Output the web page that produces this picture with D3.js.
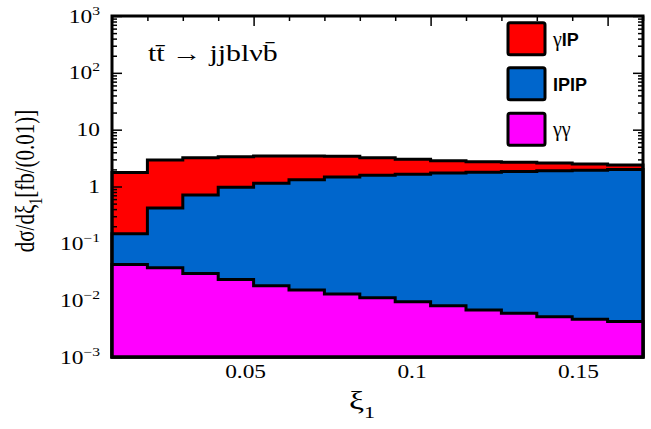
<!DOCTYPE html>
<html>
<head>
<meta charset="utf-8">
<script src="https://cdn.jsdelivr.net/npm/d3@7"></script>
<style>
  body { margin: 0; background: #fff; }
  svg { display: block; }
</style>
</head>
<body>
<div id="chart"></div>
<script>
// bin edges of xi_1 (15 bins of 0.01)
const binEdges = [0.01, 0.02, 0.03, 0.04, 0.05, 0.06, 0.07, 0.08, 0.09, 0.10, 0.11, 0.12, 0.13, 0.14, 0.15, 0.16];

// d sigma / d xi_1 [fb/(0.01)], one value per bin
const gammaIP    = [1.76, 2.93, 3.21, 3.35, 3.44, 3.44, 3.40, 3.22, 3.01, 2.84, 2.73, 2.67, 2.59, 2.49, 2.39];
const ipip       = [0.148, 0.42, 0.71, 0.97, 1.14, 1.32, 1.47, 1.58, 1.65, 1.72, 1.78, 1.84, 1.89, 1.94, 2.0];
const gammaGamma = [0.0424, 0.0372, 0.0295, 0.0232, 0.018, 0.0151, 0.0128, 0.011, 0.0094, 0.008, 0.0067, 0.0059, 0.0051, 0.0046, 0.0042];

const seriesNames  = ["γIP", "IPIP", "γγ"];
const seriesColors = ["#ff0000", "#0066cc", "#ff00ff"];

const yTickValues = [1e-3, 1e-2, 1e-1, 1, 10, 1e2, 1e3];
const yTickLabels = [["10", "−3"], ["10", "−2"], ["10", "−1"], ["1", ""], ["10", ""], ["10", "2"], ["10", "3"]];
const xTickValues = [0.05, 0.1, 0.15];
const xTickLabels = ["0.05", "0.1", "0.15"];

const W = 651, H = 429;
const box = {left: 112, right: 643, top: 16, bottom: 357};
const serif = "Liberation Serif, Times New Roman, serif";
const sans = "Liberation Sans, Arial, sans-serif";
const stretch = 1.3;   // the original picture is widened horizontally

const svg = d3.select("#chart").append("svg")
    .attr("width", W)
    .attr("height", H);

// scales
const x = d3.scaleLinear().domain([0.01, 0.16]).range([box.left, box.right]);
const xLab = d3.scaleLinear().domain([0.01, 0.16]).range([box.left, box.left + 0.94 * (box.right - box.left)]);
const y = d3.scaleLog().domain([1e-3, 1e3]).range([box.bottom, box.top]);

const minorY = [];
[1e-3, 1e-2, 1e-1, 1, 10, 100].forEach(dec => {
    for (let k = 2; k <= 9; k++) minorY.push(dec * k);
});
const minorX = binEdges.filter(v => !xTickValues.some(t => Math.abs(t - v) < 1e-9));

// step outline of one histogram, filled down to the axis floor
function stepPath(vals){
    const p = d3.path();
    p.moveTo(x(binEdges[0]), y(1e-3));
    vals.forEach((v, i) => {
        p.lineTo(x(binEdges[i]), y(v));
        p.lineTo(x(binEdges[i + 1]), y(v));
    });
    p.lineTo(x(binEdges[binEdges.length - 1]), y(1e-3));
    p.closePath();
    return p.toString();
}

function drawHist(vals, color){
    svg.append("path")
        .attr("d", stepPath(vals))
        .attr("fill", color)
        .attr("stroke", "#000")
        .attr("stroke-width", 3)
        .attr("stroke-linejoin", "miter");
}

// red first, then the ticks (they show on top of it), then blue and magenta
drawHist(gammaIP, seriesColors[0]);

function tickAxis(axis, transform){
    const g = svg.append("g").attr("transform", transform).call(axis);
    g.select(".domain").remove();
    g.selectAll("text").remove();
    g.selectAll("line").attr("stroke", "#000").attr("stroke-width", 1.5);
    return g;
}
// left & right
tickAxis(d3.axisRight(y).tickValues(yTickValues).tickSize(10), `translate(${box.left},0)`);
tickAxis(d3.axisRight(y).tickValues(minorY).tickSize(5), `translate(${box.left},0)`);
tickAxis(d3.axisLeft(y).tickValues(yTickValues).tickSize(10), `translate(${box.right},0)`);
tickAxis(d3.axisLeft(y).tickValues(minorY).tickSize(5), `translate(${box.right},0)`);
// top & bottom
tickAxis(d3.axisBottom(x).tickValues(xTickValues).tickSize(10), `translate(0,${box.top})`);
tickAxis(d3.axisBottom(x).tickValues(minorX).tickSize(5), `translate(0,${box.top})`);
tickAxis(d3.axisTop(x).tickValues(xTickValues).tickSize(10), `translate(0,${box.bottom})`);
tickAxis(d3.axisTop(x).tickValues(minorX).tickSize(5), `translate(0,${box.bottom})`);

drawHist(ipip, seriesColors[1]);
drawHist(gammaGamma, seriesColors[2]);

// frame
svg.append("rect")
    .attr("x", box.left).attr("y", box.top)
    .attr("width", box.right - box.left).attr("height", box.bottom - box.top)
    .attr("fill", "none").attr("stroke", "#000").attr("stroke-width", 3);

// y tick labels
const yLab = svg.append("g")
    .attr("transform", `translate(${box.left - 12},0)`)
    .call(d3.axisLeft(y).tickValues(yTickValues).tickSize(0).tickPadding(0).tickFormat(""));
yLab.select(".domain").remove();
yLab.selectAll(".tick text")
    .attr("x", 0).attr("dy", 0).attr("y", 6)
    .attr("text-anchor", "end")
    .attr("transform", `scale(${stretch},1)`)
    .attr("font-family", serif).attr("font-size", 18).attr("fill", "#000")
    .each(function(d){
        const lab = yTickLabels[yTickValues.indexOf(d)];
        const t = d3.select(this);
        t.append("tspan").text(lab[0]);
        if (lab[1]) t.append("tspan").attr("dy", -8).attr("font-size", 12).text(lab[1]);
    });

// x tick labels
const xl = svg.append("g")
    .attr("transform", `translate(0,${box.bottom})`)
    .call(d3.axisBottom(xLab).tickValues(xTickValues).tickSize(0).tickFormat((d, i) => xTickLabels[i]));
xl.select(".domain").remove();
xl.selectAll(".tick text")
    .attr("y", 21).attr("dy", 0)
    .attr("transform", `scale(${stretch},1)`)
    .attr("font-family", serif).attr("font-size", 18).attr("fill", "#000");

// axis titles
const xt = svg.append("text")
    .attr("transform", `translate(362,409) scale(${stretch},1)`)
    .attr("text-anchor", "middle")
    .attr("font-family", serif).attr("font-size", 26);
xt.append("tspan").text("ξ");
xt.append("tspan").attr("dy", 9).attr("font-size", 17).text("1");

const yt = svg.append("text")
    .attr("transform", `translate(34,181) scale(${stretch},1) rotate(-90)`)
    .attr("text-anchor", "middle")
    .attr("font-family", serif).attr("font-size", 21);
yt.append("tspan").text("dσ/dξ");
yt.append("tspan").attr("dy", 6).attr("font-size", 14).text("1");
yt.append("tspan").attr("dy", -6).text("[fb/(0.01)]");

// process label
svg.append("text")
    .attr("transform", `translate(148,61) scale(${stretch},1)`)
    .attr("font-family", serif).attr("font-size", 23)
    .text("tt\u0304 → jjblνb\u0304");

// legend
const legY = [22.7, 67.7, 113.3];
const leg = svg.append("g");
leg.selectAll("rect")
    .data(seriesNames)
    .enter()
    .append("rect")
    .attr("x", 508).attr("y", (d, i) => legY[i])
    .attr("width", 37).attr("height", 32)
    .attr("rx", 2)
    .attr("fill", (d, i) => seriesColors[i])
    .attr("stroke", "#000").attr("stroke-width", 3);

const legText = leg.selectAll("text")
    .data(seriesNames)
    .enter()
    .append("text")
    .attr("x", 553).attr("y", (d, i) => legY[i] + 23)
    .attr("fill", "#000");
legText.each(function(d){
    const t = d3.select(this);
    // gamma in serif, IP in bold sans
    d.match(/γ|IP/g).forEach(part => {
        if (part === "γ") t.append("tspan").attr("font-family", serif).attr("font-size", 20).text("γ");
        else t.append("tspan").attr("font-family", sans).attr("font-weight", "bold").attr("font-size", 18).text(part);
    });
});
</script>
</body>
</html>
